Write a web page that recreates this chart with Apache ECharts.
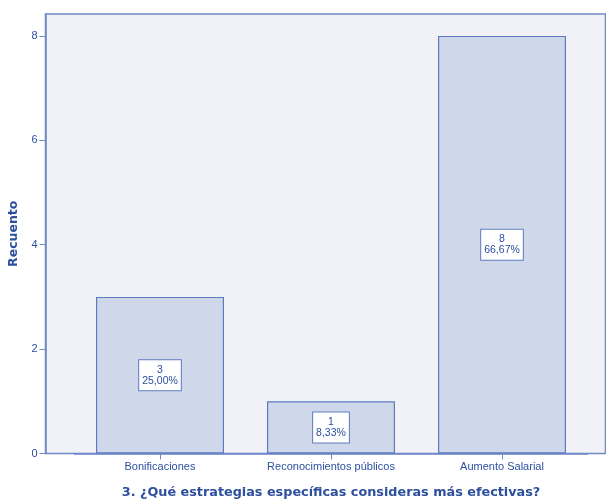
<!DOCTYPE html>
<html>
<head>
<meta charset="utf-8">
<script src="https://cdn.jsdelivr.net/npm/echarts@6/dist/echarts.min.js"></script>
<style>
  html, body { margin: 0; padding: 0; background: #ffffff; }
  #chart { width: 606px; height: 500px; }
</style>
</head>
<body>
<div id="chart"></div>
<script>
// Respuestas a la pregunta 3
const categories = ['Bonificaciones', 'Reconocimientos públicos', 'Aumento Salarial'];
const counts = [3, 1, 8];
const percents = ['25,00%', '8,33%', '66,67%'];
const yTicks = [0, 2, 4, 6, 8];

const textColor = '#2c4f9e';
const lineColor = '#7189c6';
const fontFamily = 'Arial, "Liberation Sans", sans-serif';
const titleFont = '"DejaVu Sans", Verdana, sans-serif';

const chart = echarts.init(document.getElementById('chart'), null, { renderer: 'canvas' });

chart.setOption({
  animation: false,
  backgroundColor: '#ffffff',
  graphic: [{
    type: 'rect',
    z: -10,
    shape: { x: 45.5, y: 14, width: 560, height: 439.5 },
    style: { fill: '#f1f2f8', stroke: lineColor, lineWidth: 1.5 }
  }],
  grid: {
    left: 74.5, right: 18.5, top: 14, bottom: 46.5,
    containLabel: false,
    outerBoundsMode: 'none'
  },
  xAxis: {
    type: 'category',
    data: categories,
    axisLine: { show: true, lineStyle: { color: lineColor, width: 1.5 } },
    axisTick: { show: true, alignWithLabel: true, length: 6, lineStyle: { color: lineColor } },
    axisLabel: { color: textColor, fontSize: 11, fontFamily: fontFamily, margin: 8 },
    name: '3. ¿Qué estrategias específicas consideras más efectivas?',
    nameLocation: 'middle',
    nameGap: 33,
    nameTextStyle: { color: textColor, fontSize: 12.8, fontWeight: 'bold', fontFamily: titleFont }
  },
  yAxis: {
    type: 'value',
    min: 0,
    max: 8.42,
    interval: 2,
    offset: 29,
    splitLine: { show: false },
    axisLine: { show: true, lineStyle: { color: lineColor, width: 1.5 } },
    axisTick: { show: true, length: 6, lineStyle: { color: lineColor } },
    axisLabel: {
      color: textColor, fontSize: 11, fontFamily: fontFamily, margin: 8,
      showMaxLabel: false,
      formatter: v => (yTicks.indexOf(v) >= 0 ? String(v) : '')
    },
    name: 'Recuento',
    nameLocation: 'middle',
    nameGap: 24,
    nameTextStyle: { color: textColor, fontSize: 12.5, fontWeight: 'bold', fontFamily: titleFont }
  },
  series: [{
    type: 'bar',
    data: counts,
    barWidth: 128,
    itemStyle: { color: '#cfd8ea', borderColor: '#5f7bbf', borderWidth: 1.2 },
    label: {
      show: true,
      position: 'inside',
      formatter: p => counts[p.dataIndex] + '\n' + percents[p.dataIndex],
      color: textColor,
      fontSize: 10.5,
      fontFamily: fontFamily,
      lineHeight: 11,
      align: 'center',
      backgroundColor: '#ffffff',
      borderColor: '#5f7bbf',
      borderWidth: 1,
      padding: [4, 3, 4, 3]
    }
  }]
});
</script>
</body>
</html>
